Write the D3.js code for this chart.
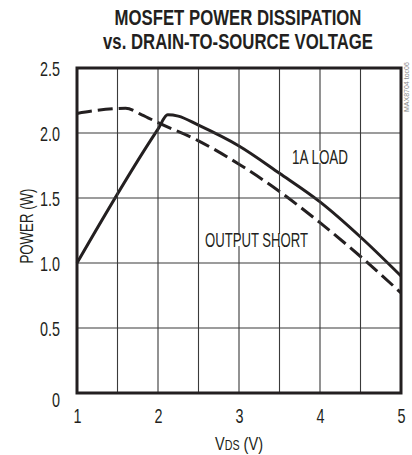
<!DOCTYPE html>
<html>
<head>
<meta charset="utf-8">
<script src="https://cdn.jsdelivr.net/npm/d3@7"></script>
<style>
  body { margin: 0; background: #fff; }
  svg { display: block; }
  text { font-family: "Liberation Sans Narrow", "Liberation Sans", Arial, sans-serif; fill: #231f20; }
</style>
</head>
<body>
<div id="chart"></div>
<script>
// axis ticks
const voltTicks = [1, 2, 3, 4, 5];
const powerTicks = [0, 0.5, 1.0, 1.5, 2.0, 2.5];
const voltGrid = [1.5, 2.0, 2.5, 3.0, 3.5, 4.0, 4.5];
const powerGrid = [0.5, 1.0, 1.5, 2.0];

// 1A LOAD (solid)
const loadVolts = [1.0, 2.0, 2.12, 2.25, 2.5, 3.0, 3.5, 4.0, 4.5, 5.0];
const loadPower = [1.0, 2.03, 2.14, 2.13, 2.06, 1.9, 1.69, 1.47, 1.2, 0.9];

// OUTPUT SHORT (dashed)
const shortVolts = [1.0, 1.2, 1.6, 1.8, 2.0, 2.5, 3.0, 3.5, 4.0, 4.5, 5.0];
const shortPower = [2.15, 2.17, 2.19, 2.14, 2.08, 1.94, 1.76, 1.55, 1.31, 1.05, 0.77];

const width = 412, height = 455;
const margin = { top: 68, right: 11, bottom: 62, left: 77 };

const svg = d3.select('#chart').append('svg')
  .attr('width', width)
  .attr('height', height);

const x = d3.scaleLinear().domain([1, 5]).range([margin.left, width - margin.right]);
const y = d3.scaleLinear().domain([0, 2.5]).range([height - margin.bottom, margin.top]);

// squeeze a text horizontally to a target width (condensed face look)
function fitWidth(sel, target) {
  const w = sel.node().getComputedTextLength();
  const k = target / w;
  const x0 = +sel.attr('x'), y0 = +sel.attr('y');
  sel.attr('transform', `translate(${x0},${y0}) scale(${k},1) translate(${-x0},${-y0})`);
}

// tick labels
const numLen = s => s.replace(/[^0-9]/g, '').length * 8 + s.replace(/[0-9]/g, '').length * 4;

svg.append('g')
  .attr('transform', `translate(${x(1)},0)`)
  .call(d3.axisLeft(y).tickValues(powerTicks).tickSize(0).tickPadding(17)
    .tickFormat(d => d === 0 ? '0' : d3.format('.1f')(d)))
  .call(g => g.select('.domain').remove())
  .call(g => g.selectAll('text')
    .attr('font-size', 21)
    .attr('font-family', null)
    .attr('dy', d => d === 0 ? '0.65em' : '0.36em')
    .attr('textLength', function () { return numLen(this.textContent); })
    .attr('lengthAdjust', 'spacingAndGlyphs'));

svg.append('g')
  .attr('transform', `translate(0,${y(0)})`)
  .call(d3.axisBottom(x).tickValues(voltTicks).tickSize(0).tickPadding(15).tickFormat(d3.format('d')))
  .call(g => g.select('.domain').remove())
  .call(g => g.selectAll('text')
    .attr('font-size', 21)
    .attr('font-family', null)
    .attr('textLength', 8)
    .attr('lengthAdjust', 'spacingAndGlyphs'));

// curves
const line = d3.line()
  .x(d => x(d[0]))
  .y(d => y(d[1]))
  .curve(d3.curveMonotoneX);

svg.append('path')
  .datum(loadVolts.map((v, i) => [v, loadPower[i]]))
  .attr('fill', 'none')
  .attr('stroke', '#231f20')
  .attr('stroke-width', 3)
  .attr('stroke-linejoin', 'round')
  .attr('d', line);

svg.append('path')
  .datum(shortVolts.map((v, i) => [v, shortPower[i]]))
  .attr('fill', 'none')
  .attr('stroke', '#231f20')
  .attr('stroke-width', 3)
  .attr('stroke-dasharray', '15,6')
  .attr('d', line);

// gridlines every 0.5 V / 0.5 W in one path
const gridPath = voltGrid.map(d => `M${x(d)},${y(0)}V${y(2.5)}`).join('') +
  powerGrid.map(d => `M${x(1)},${y(d)}H${x(5)}`).join('');
svg.append('path')
  .attr('d', gridPath)
  .attr('fill', 'none')
  .attr('stroke', '#3a3a3a')
  .attr('stroke-width', 1.1);

// curve labels, white backing breaks the gridlines behind them
function label(txt, lx, ly, len) {
  svg.append('rect')
    .attr('x', lx - 1).attr('y', ly - 13)
    .attr('width', len + 2).attr('height', 12)
    .attr('fill', '#fff');
  svg.append('text')
    .attr('x', lx).attr('y', ly)
    .attr('font-size', 20)
    .attr('textLength', len)
    .attr('lengthAdjust', 'spacingAndGlyphs')
    .text(txt);
}
label('1A LOAD', 292, 164, 56);
label('OUTPUT SHORT', 205, 247, 103);

// frame
svg.append('rect')
  .attr('x', x(1))
  .attr('y', y(2.5))
  .attr('width', x(5) - x(1))
  .attr('height', y(0) - y(2.5))
  .attr('fill', 'none')
  .attr('stroke', '#231f20')
  .attr('stroke-width', 3);

// title
const t1 = svg.append('text')
  .attr('x', 238).attr('y', 25)
  .attr('text-anchor', 'middle')
  .attr('font-size', 22).attr('font-weight', 'bold')
  .text('MOSFET POWER DISSIPATION');
fitWidth(t1, 247);

const t2 = svg.append('text')
  .attr('x', 238).attr('y', 49)
  .attr('text-anchor', 'middle')
  .attr('font-size', 22).attr('font-weight', 'bold')
  .text('vs. DRAIN-TO-SOURCE VOLTAGE');
fitWidth(t2, 270);

// axis titles
svg.append('text')
  .attr('transform', 'translate(33,226) rotate(-90)')
  .attr('text-anchor', 'middle')
  .attr('font-size', 19)
  .attr('textLength', 75).attr('lengthAdjust', 'spacingAndGlyphs')
  .text('POWER (W)');

const xt = svg.append('text')
  .attr('x', 239).attr('y', 450)
  .attr('text-anchor', 'middle')
  .attr('font-size', 19);
xt.append('tspan').text('V');
xt.append('tspan').attr('font-size', 14).text('DS');
xt.append('tspan').text(' (V)');
fitWidth(xt, 48);

// figure id
svg.append('text')
  .attr('transform', 'translate(409,112) rotate(-90)')
  .attr('font-size', 7)
  .style('fill', '#888')
  .text('MAX8704 toc06');
</script>
</body>
</html>
